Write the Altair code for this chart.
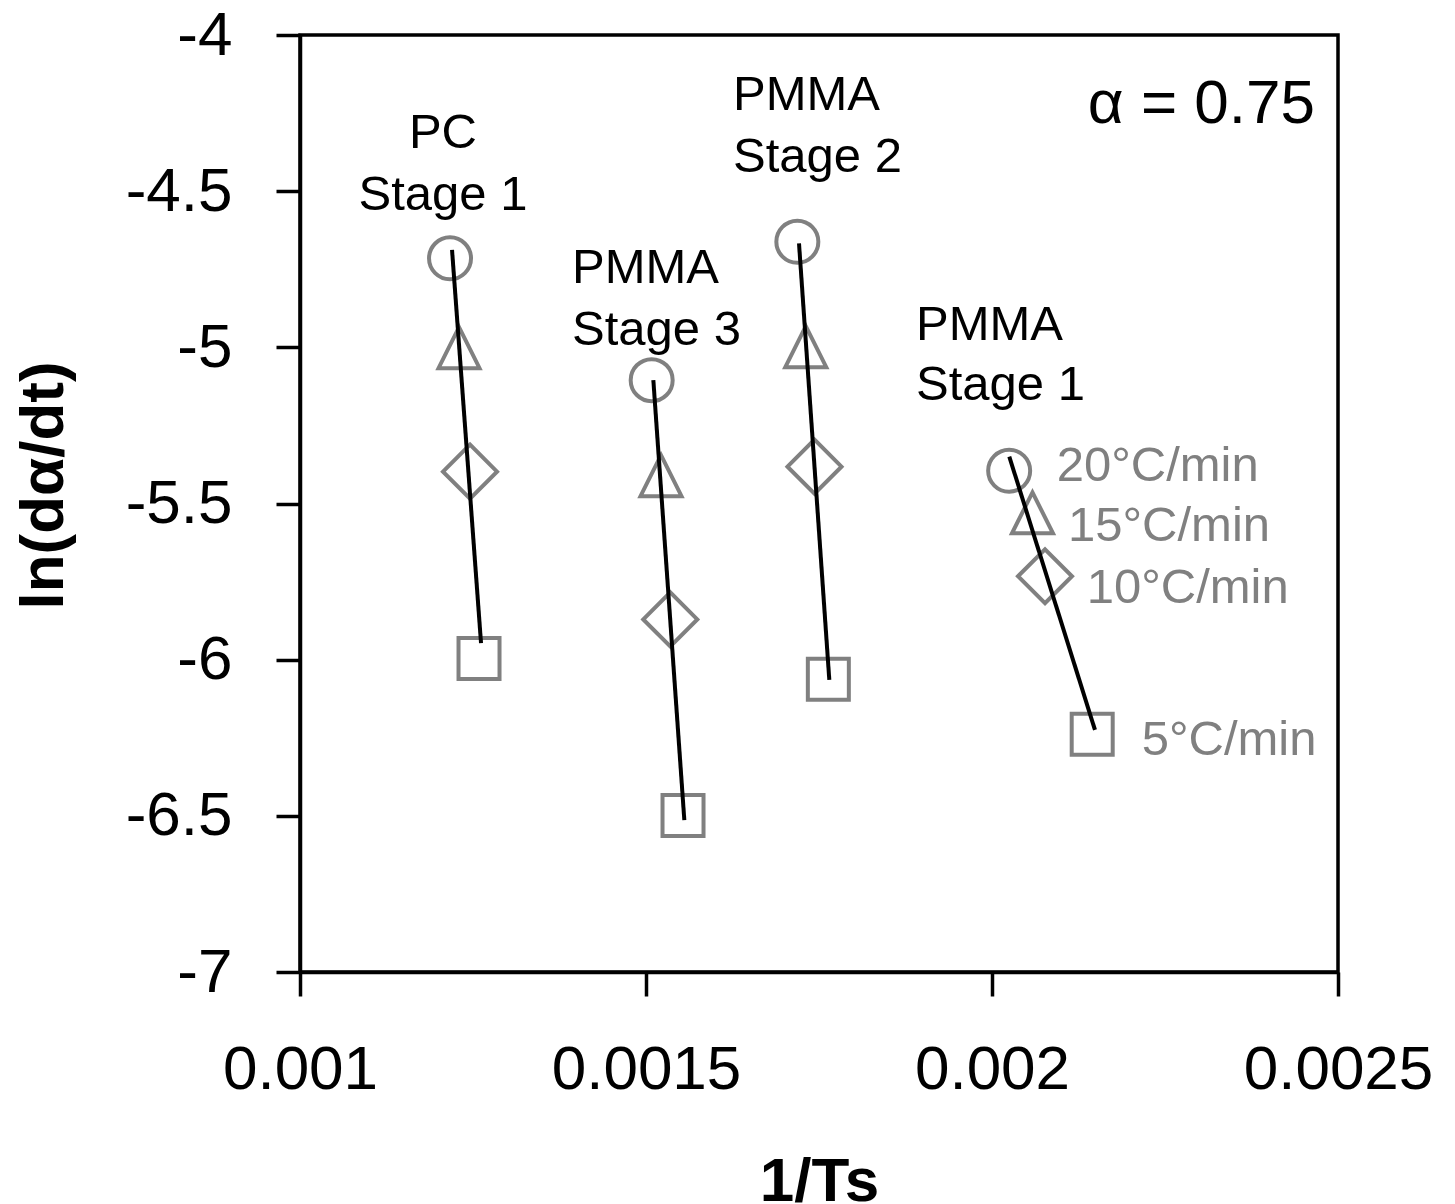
import altair as alt
import pandas as pd

FONT = "Liberation Sans"
GRAY = "#808080"

# ---------------- data ----------------
rates = ["20°C/min", "15°C/min", "10°C/min", "5°C/min"]
stages = ["PC Stage 1", "PMMA Stage 3", "PMMA Stage 2", "PMMA Stage 1"]

pc1_x = [0.0012168, 0.0012298, 0.0012457, 0.0012587]
pc1_y = [-4.715, -5.001, -5.398, -5.996]
pmma3_x = [0.0015082, 0.0015217, 0.0015351, 0.0015535]
pmma3_y = [-5.105, -5.411, -5.871, -6.499]
pmma2_x = [0.0017187, 0.0017309, 0.0017435, 0.0017635]
pmma2_y = [-4.662, -4.998, -5.382, -6.063]
pmma1_x = [0.0020248, 0.0020585, 0.0020766, 0.0021448]
pmma1_y = [-5.395, -5.530, -5.733, -6.239]

# fitted lines (end points)
fit_x1 = [0.0012197, 0.0015106, 0.0017211, 0.0020250]
fit_y1 = [-4.688, -5.105, -4.667, -5.350]
fit_x2 = [0.0012616, 0.0015554, 0.0017649, 0.0021488]
fit_y2 = [-5.947, -6.514, -6.065, -6.225]

# stage labels (one row per text line)
pc_text = ["PC", "Stage 1"]
pc_tx = [0.0012066, 0.0012066]
pc_ty = [-4.362, -4.560]

pmma_text = ["PMMA", "Stage 3", "PMMA", "Stage 2", "PMMA", "Stage 1"]
pmma_tx = [0.0013931, 0.0013931, 0.0016257, 0.0016257, 0.0018902, 0.0018902]
pmma_ty = [-4.794, -4.993, -4.240, -4.439, -4.977, -5.169]

# heating-rate labels
rate_tx = [0.0020935, 0.0021098, 0.0021368, 0.0022163]
rate_ty = [-5.428, -5.620, -5.819, -6.306]

alpha_text = ["α = 0.75"]
alpha_tx = [0.0024668]
alpha_ty = [-4.282]

x_ticks = [0.001, 0.0015, 0.002, 0.0025]
y_ticks = [-7, -6.5, -6, -5.5, -5, -4.5, -4]

# ---------------- tables ----------------
rows = []
for st, xs, ys in zip(stages, [pc1_x, pmma3_x, pmma2_x, pmma1_x], [pc1_y, pmma3_y, pmma2_y, pmma1_y]):
    for r, xv, yv in zip(rates, xs, ys):
        rows.append({"stage": st, "rate": r, "x": xv, "y": yv})
pts = pd.DataFrame(rows)

fits = pd.DataFrame({"stage": stages, "x": fit_x1, "y": fit_y1, "x2": fit_x2, "y2": fit_y2})
pc_lbl = pd.DataFrame({"t": pc_text, "x": pc_tx, "y": pc_ty})
pmma_lbl = pd.DataFrame({"t": pmma_text, "x": pmma_tx, "y": pmma_ty})
rate_lbl = pd.DataFrame({"t": rates, "x": rate_tx, "y": rate_ty})
alpha_lbl = pd.DataFrame({"t": alpha_text, "x": alpha_tx, "y": alpha_ty})

# ---------------- scales / axes ----------------
x_scale = alt.Scale(domain=[0.001, 0.0025], nice=False, zero=False)
y_scale = alt.Scale(domain=[-7, -4], nice=False, zero=False)

common_axis = dict(
    grid=False, domainColor="black", domainWidth=3.5, tickColor="black", tickWidth=3.5,
    tickSize=24, labelFont=FONT, labelFontSize=62, labelColor="black",
    labelExpr="'' + datum.value", labelFlush=False, labelOverlap=False, labelLimit=600,
    titleFont=FONT, titleFontSize=62, titleFontWeight="bold", titleColor="black",
    titleBaseline="alphabetic", titleLimit=800,
)
x_axis = alt.Axis(values=x_ticks, labelPadding=43, titleY=228, **common_axis)
y_axis = alt.Axis(values=y_ticks, labelPadding=44, titleX=-238, titleY=450, titleAngle=-90, **common_axis)


def X(field="x"):
    return alt.X(f"{field}:Q", scale=x_scale, axis=x_axis, title="1/Ts")


def Y(field="y"):
    return alt.Y(f"{field}:Q", scale=y_scale, axis=y_axis, title="ln(dα/dt)")


shape_spec = {
    "20°C/min": ("circle", 1764),
    "15°C/min": ("M0,-1L1,1L-1,1Z", 1681),
    "10°C/min": ("diamond", 2916),
    "5°C/min": ("square", 1681),
}

layers = []
base_pts = alt.Chart(pts)
for r in rates:
    shp, sz = shape_spec[r]
    layers.append(
        base_pts.transform_filter(alt.datum.rate == r)
        .mark_point(shape=shp, size=sz, filled=False, stroke=GRAY, strokeWidth=4, opacity=1)
        .encode(x=X(), y=Y())
    )

lines = alt.Chart(fits).mark_rule(color="black", strokeWidth=4).encode(
    x=X(), y=Y(), x2="x2:Q", y2="y2:Q"
)

pc_text_layer = alt.Chart(pc_lbl).mark_text(
    font=FONT, fontSize=49, color="black", align="center", baseline="alphabetic"
).encode(x=X(), y=Y(), text="t:N")

pmma_text_layer = alt.Chart(pmma_lbl).mark_text(
    font=FONT, fontSize=49, color="black", align="left", baseline="alphabetic"
).encode(x=X(), y=Y(), text="t:N")

rate_text_layer = alt.Chart(rate_lbl).mark_text(
    font=FONT, fontSize=49, color=GRAY, align="left", baseline="alphabetic"
).encode(x=X(), y=Y(), text="t:N")

alpha_layer = alt.Chart(alpha_lbl).mark_text(
    font=FONT, fontSize=62, color="black", align="right", baseline="alphabetic"
).encode(x=X(), y=Y(), text="t:N")

chart = alt.layer(
    *layers, lines, pc_text_layer, pmma_text_layer, rate_text_layer, alpha_layer
).properties(
    width=1038,
    height=937,
    autosize=alt.AutoSizeParams(type="none"),
    padding={"left": 292, "top": 27, "right": 100, "bottom": 232},
    background="white",
).configure_view(stroke="black", strokeWidth=3.5)

chart.save("out.html", embed_options={"renderer": "svg", "actions": False})
